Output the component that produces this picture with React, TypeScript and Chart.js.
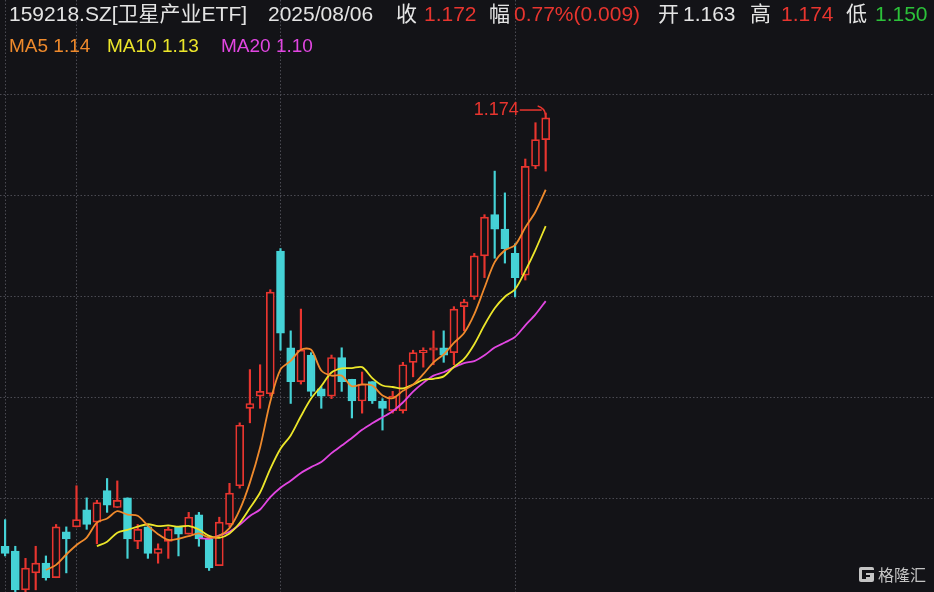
import React, { useEffect, useRef } from 'react';
import { Chart, registerables } from 'chart.js';

Chart.register(...registerables);

// ---- data ----
const dates = [
  '2025/05/22', '2025/05/23', '2025/05/26', '2025/05/27', '2025/05/28', '2025/05/29', '2025/05/30',
  '2025/06/03', '2025/06/04', '2025/06/05', '2025/06/06', '2025/06/09', '2025/06/10', '2025/06/11',
  '2025/06/12', '2025/06/13', '2025/06/16', '2025/06/17', '2025/06/18', '2025/06/19', '2025/06/20',
  '2025/06/23', '2025/06/24', '2025/06/25', '2025/06/26', '2025/06/27', '2025/06/30',
  '2025/07/01', '2025/07/02', '2025/07/03', '2025/07/04', '2025/07/07', '2025/07/08', '2025/07/09',
  '2025/07/10', '2025/07/11', '2025/07/14', '2025/07/15', '2025/07/16', '2025/07/17', '2025/07/18',
  '2025/07/21', '2025/07/22', '2025/07/23', '2025/07/24', '2025/07/25', '2025/07/28', '2025/07/29',
  '2025/07/30', '2025/07/31', '2025/08/01', '2025/08/04', '2025/08/05', '2025/08/06',
];

const opens = [
  0.995, 0.993, 0.977, 0.984, 0.988, 0.982, 1.001, 1.003, 1.010, 1.005, 1.018, 1.011, 1.015, 0.997,
  1.003, 0.992, 0.997, 1.003, 1.000, 1.008, 0.998, 0.987, 1.004, 1.020, 1.052, 1.057, 1.058, 1.117,
  1.077, 1.063, 1.074, 1.060, 1.057, 1.073, 1.064, 1.055, 1.063, 1.055, 1.051, 1.051, 1.071, 1.075,
  1.076, 1.077, 1.075, 1.094, 1.098, 1.115, 1.132, 1.126, 1.116, 1.107, 1.152, 1.163,
];
const highs = [
  1.006, 0.995, 0.990, 0.995, 0.991, 1.004, 1.003, 1.020, 1.015, 1.014, 1.023, 1.022, 1.015, 1.004,
  1.004, 0.996, 1.003, 1.003, 1.009, 1.009, 0.999, 1.007, 1.021, 1.046, 1.068, 1.070, 1.101, 1.118,
  1.084, 1.093, 1.075, 1.061, 1.074, 1.077, 1.064, 1.067, 1.063, 1.056, 1.059, 1.071, 1.076, 1.077,
  1.084, 1.084, 1.094, 1.097, 1.116, 1.132, 1.150, 1.141, 1.120, 1.155, 1.170, 1.174,
];
const lows = [
  0.991, 0.976, 0.976, 0.977, 0.981, 0.982, 0.984, 1.003, 1.002, 0.996, 1.009, 1.011, 0.990, 0.994,
  0.990, 0.988, 0.990, 0.991, 1.000, 0.995, 0.985, 0.987, 1.003, 1.019, 1.046, 1.052, 1.057, 1.076,
  1.054, 1.062, 1.057, 1.052, 1.056, 1.059, 1.048, 1.050, 1.054, 1.043, 1.050, 1.050, 1.065, 1.069,
  1.070, 1.071, 1.070, 1.084, 1.097, 1.106, 1.114, 1.112, 1.098, 1.105, 1.151, 1.150,
];
const closes = [
  0.992, 0.977, 0.986, 0.988, 0.982, 1.003, 0.998, 1.006, 1.004, 1.013, 1.012, 1.014, 0.998, 1.002,
  0.992, 0.994, 1.002, 1.000, 1.007, 0.998, 0.986, 1.005, 1.017, 1.045, 1.054, 1.059, 1.100, 1.083,
  1.063, 1.076, 1.059, 1.057, 1.073, 1.063, 1.055, 1.062, 1.055, 1.052, 1.057, 1.070, 1.075, 1.076,
  1.077, 1.074, 1.093, 1.096, 1.115, 1.131, 1.126, 1.118, 1.106, 1.152, 1.163, 1.172,
];

const ma5Start = 4;
const ma5 = [
  0.9852, 0.9873, 0.9916, 0.9955, 0.9986, 1.0048, 1.0065, 1.0095, 1.0081, 1.0076, 1.0035, 1.0000,
  0.9976, 0.9981, 0.9992, 1.0003, 0.9986, 0.9993, 1.0025, 1.0100, 1.0213, 1.0358, 1.0548, 1.0681,
  1.0716, 1.0762, 1.0762, 1.0676, 1.0655, 1.0655, 1.0611, 1.0619, 1.0614, 1.0573, 1.0562, 1.0592,
  1.0618, 1.0661, 1.0710, 1.0743, 1.0790, 1.0831, 1.0909, 1.1018, 1.1124, 1.1173, 1.1194, 1.1267,
  1.1332, 1.1423,
];
const ma10Start = 9;
const ma10 = [
  0.9950, 0.9969, 1.0006, 1.0018, 1.0031, 1.0041, 1.0033, 1.0036, 1.0031, 1.0034, 1.0019, 0.9993,
  0.9985, 1.0003, 1.0046, 1.0108, 1.0172, 1.0270, 1.0353, 1.0408, 1.0487, 1.0560, 1.0612, 1.0668,
  1.0685, 1.0686, 1.0690, 1.0645, 1.0614, 1.0608, 1.0602, 1.0618, 1.0638, 1.0642, 1.0652, 1.0691,
  1.0724, 1.0785, 1.0864, 1.0933, 1.0981, 1.1012, 1.1088, 1.1175, 1.1273,
];
const ma20Start = 19;
const ma20 = [
  0.9984, 0.9981, 0.9995, 1.0010, 1.0039, 1.0075, 1.0102, 1.0153, 1.0192, 1.0221, 1.0253, 1.0277,
  1.0298, 1.0335, 1.0366, 1.0397, 1.0431, 1.0458, 1.0483, 1.0508, 1.0544, 1.0589, 1.0625, 1.0655,
  1.0669, 1.0689, 1.0707, 1.0715, 1.0739, 1.0771, 1.0792, 1.0815, 1.0863, 1.0908, 1.0963,
];

// horizontal grid price levels
const gridPrices = [1.1817, 1.14, 1.0982, 1.0565, 1.0148];

// header
const title = '159218.SZ[卫星产业ETF]';
const lastDate = '2025/08/06';
const closeText = '1.172';
const changeText = '0.77%(0.009)';
const openText = '1.163';
const highText = '1.174';
const lowText = '1.150';
const maLabels = ['MA5 1.14', 'MA10 1.13', 'MA20 1.10'];

// ---- styles ----
const BG = '#131317';
const RED = '#e8352f';
const CYAN = '#45d2d6';
const GREEN = '#2cc23a';
const MA5C = '#ef8a2c';
const MA10C = '#ece62a';
const MA20C = '#e246e2';
const W = 934;
const H = 592;
const Y_MIN = 0.9761;
const Y_MAX = 1.2207;
const X_MIN = -0.5;
const X_MAX = 91.07;

const FONT = "'Liberation Sans', Arial, 'Noto Sans CJK SC', sans-serif";

const monthStarts = dates
  .map((d, i) => (i === 0 || d.slice(5, 7) !== dates[i - 1].slice(5, 7) ? i : -1))
  .filter((i) => i >= 0);

const bgGridPlugin = {
  id: 'bgGrid',
  beforeDraw(chart: any) {
    const { ctx } = chart;
    ctx.save();
    ctx.fillStyle = BG;
    ctx.fillRect(0, 0, chart.width, chart.height);
    ctx.restore();
  },
  beforeDatasetsDraw(chart: any) {
    const { ctx, chartArea, scales } = chart;
    ctx.save();
    ctx.strokeStyle = '#4a4a52';
    ctx.lineWidth = 1;
    ctx.setLineDash([1.5, 2]);
    for (const p of gridPrices) {
      const y = Math.round(scales.y.getPixelForValue(p)) + 0.5;
      ctx.beginPath();
      ctx.moveTo(chartArea.left, y);
      ctx.lineTo(chartArea.right, y);
      ctx.stroke();
    }
    for (const i of monthStarts) {
      const x = Math.round(scales.x.getPixelForValue(i)) + 0.5;
      ctx.beginPath();
      ctx.moveTo(x, chartArea.top);
      ctx.lineTo(x, chartArea.bottom);
      ctx.stroke();
    }
    ctx.restore();
  },
  afterDatasetsDraw(chart: any) {
    const { ctx, scales } = chart;
    let mi = 0;
    highs.forEach((h, i) => {
      if (h > highs[mi]) mi = i;
    });
    const x = scales.x.getPixelForValue(mi);
    const y = scales.y.getPixelForValue(highs[mi]);
    ctx.save();
    ctx.fillStyle = RED;
    ctx.strokeStyle = RED;
    ctx.font = `18px ${FONT}`;
    ctx.textAlign = 'right';
    ctx.textBaseline = 'middle';
    const ty = y - 3;
    ctx.fillText(highs[mi].toFixed(3), x - 27, ty);
    ctx.lineWidth = 1.5;
    ctx.beginPath();
    ctx.moveTo(x - 26, ty);
    ctx.lineTo(x - 4, ty);
    ctx.stroke();
    ctx.beginPath();
    ctx.moveTo(x - 8, ty - 4);
    ctx.quadraticCurveTo(x - 1, ty - 2, x, y + 2);
    ctx.stroke();
    ctx.restore();
  },
};

export default function App() {
  const ref = useRef<HTMLCanvasElement | null>(null);

  useEffect(() => {
    document.body.style.margin = '0';
    document.body.style.background = BG;
    const canvas = ref.current;
    if (!canvas) return;
    const up = closes.map((c, i) => c >= opens[i]);
    const chart = new Chart(canvas, {
      type: 'bar',
      data: {
        datasets: [
          {
            type: 'line',
            label: 'MA5',
            data: ma5.map((v, k) => ({ x: k + ma5Start, y: v })),
            borderColor: MA5C,
            borderWidth: 1.8,
            pointRadius: 0,
            tension: 0.3,
            order: 0,
          } as any,
          {
            type: 'line',
            label: 'MA10',
            data: ma10.map((v, k) => ({ x: k + ma10Start, y: v })),
            borderColor: MA10C,
            borderWidth: 1.8,
            pointRadius: 0,
            tension: 0.3,
            order: 0,
          } as any,
          {
            type: 'line',
            label: 'MA20',
            data: ma20.map((v, k) => ({ x: k + ma20Start, y: v })),
            borderColor: MA20C,
            borderWidth: 1.8,
            pointRadius: 0,
            tension: 0.3,
            order: 0,
          } as any,
          {
            type: 'bar',
            label: 'body',
            data: opens.map((o, i) => ({ x: i, y: [o, closes[i]] })),
            backgroundColor: up.map((u) => (u ? BG : CYAN)),
            borderColor: up.map((u) => (u ? RED : CYAN)),
            borderWidth: 1.7,
            borderSkipped: false,
            barThickness: 8,
            minBarLength: 2,
            grouped: false,
            order: 1,
          } as any,
          {
            type: 'bar',
            label: 'wick',
            data: lows.map((l, i) => ({ x: i, y: [l, highs[i]] })),
            backgroundColor: up.map((u) => (u ? RED : CYAN)),
            borderWidth: 0,
            barThickness: 1.5,
            grouped: false,
            order: 2,
          } as any,
        ],
      },
      options: {
        animation: false,
        responsive: false,
        maintainAspectRatio: false,
        layout: { padding: 0 },
        plugins: { legend: { display: false }, tooltip: { enabled: false } },
        scales: {
          x: { type: 'linear', min: X_MIN, max: X_MAX, offset: false, grace: 0, display: false },
          y: { type: 'linear', min: Y_MIN, max: Y_MAX, grace: 0, display: false },
        },
      } as any,
      plugins: [bgGridPlugin],
    });
    return () => chart.destroy();
  }, []);

  const line1: [string, number, string][] = [
    [title, 9, '#e4e4e4'],
    [lastDate, 268, '#e4e4e4'],
    ['收', 396, '#e4e4e4'],
    [closeText, 424, RED],
    ['幅', 489, '#e4e4e4'],
    [changeText, 514, RED],
    ['开', 658, '#e4e4e4'],
    [openText, 683, '#e4e4e4'],
    ['高', 750, '#e4e4e4'],
    [highText, 781, RED],
    ['低', 846, '#e4e4e4'],
    [lowText, 875, GREEN],
  ];
  const line2: [string, number, string][] = [
    [maLabels[0], 9, MA5C],
    [maLabels[1], 107, MA10C],
    [maLabels[2], 221, MA20C],
  ];

  return (
    <div style={{ position: 'fixed', left: 0, top: 0, width: W, height: H, background: BG, overflow: 'hidden' }}>
      <canvas ref={ref} width={W} height={H} style={{ position: 'absolute', left: 0, top: 0, width: W, height: H }} />
      {line1.map(([t, x, c], i) => (
        <span
          key={'a' + i}
          style={{ position: 'absolute', left: x, top: 3, fontFamily: FONT, fontSize: 21, lineHeight: '21px', color: c, whiteSpace: 'pre' }}
        >
          {t}
        </span>
      ))}
      {line2.map(([t, x, c], i) => (
        <span
          key={'b' + i}
          style={{ position: 'absolute', left: x, top: 36, fontFamily: FONT, fontSize: 19, lineHeight: '19px', color: c, whiteSpace: 'pre' }}
        >
          {t}
        </span>
      ))}
      <div style={{ position: 'absolute', left: 859, top: 567, width: 15, height: 15, background: '#c4c4c4', borderRadius: 2 }}>
        <div style={{ position: 'absolute', left: 3, top: 3, width: 12, height: 3, background: BG }} />
        <div style={{ position: 'absolute', left: 3, top: 6, width: 4, height: 6, background: BG }} />
        <div style={{ position: 'absolute', left: 7, top: 8, width: 4, height: 2, background: BG }} />
      </div>
      <span style={{ position: 'absolute', left: 878, top: 565, fontFamily: "'Noto Sans CJK SC', sans-serif", fontSize: 16, lineHeight: '19px', color: '#c4c4c4' }}>
        格隆汇
      </span>
    </div>
  );
}
